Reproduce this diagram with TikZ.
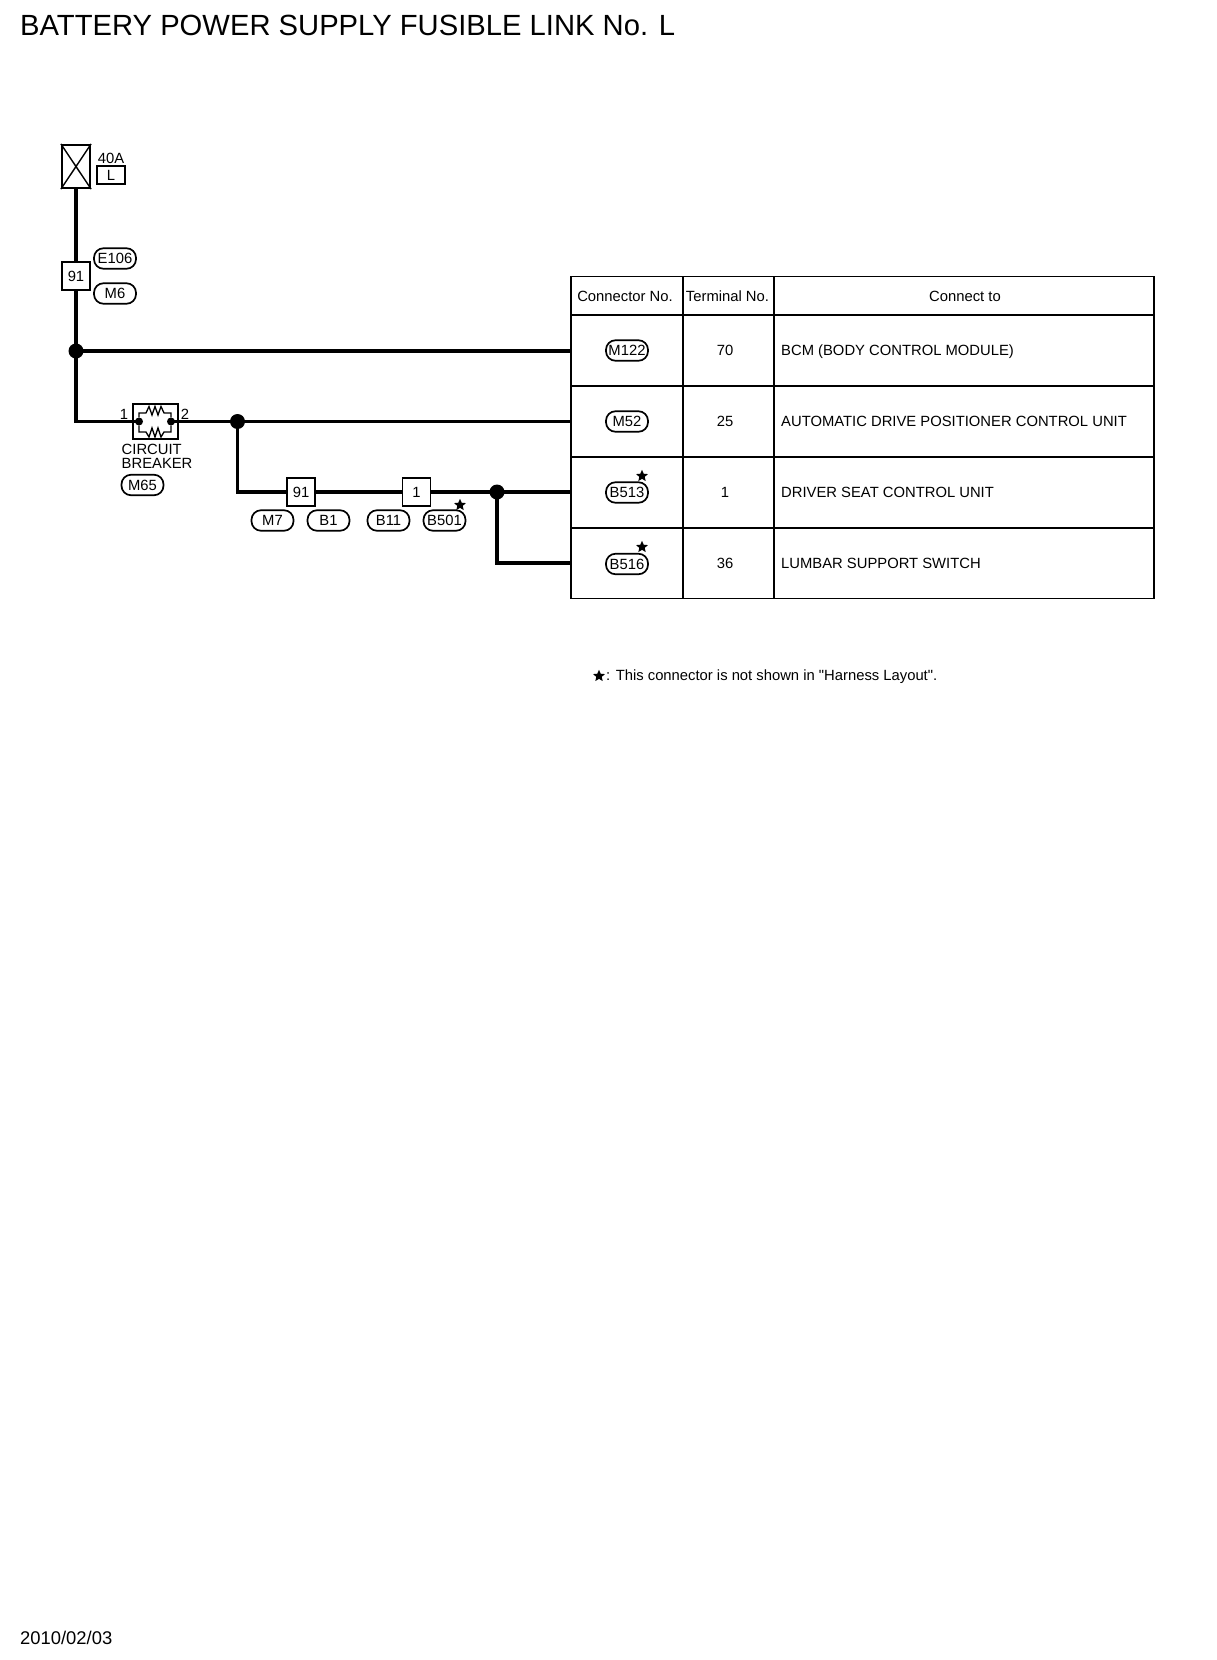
\documentclass[tikz,border=0pt]{standalone}
\usepackage{fontspec}
\setmainfont{Liberation Sans}
\newfontfamily\plainfont{Liberation Sans}
\usetikzlibrary{shapes.geometric,calc}
\newcommand{\fs}[1]{\fontsize{#1}{#1}\selectfont}
\tikzset{
  wire/.style={line width=3.6pt,line join=miter},
  thin line/.style={line width=1.4pt},
  termbox/.style={draw,line width=1.6pt,fill=white,minimum width=28pt,minimum height=28pt,inner sep=0pt,font=\fs{14.8}},
  pill/.style={draw,line width=1.7pt,rounded corners=9.5pt,minimum width=42pt,minimum height=20.5pt,inner sep=0pt,font=\fs{14.8}},
  junction/.style={circle,fill=black,minimum size=15pt,inner sep=0pt},
  smalldot/.style={circle,fill=black,minimum size=8pt,inner sep=0pt},
  starmark/.style={star,star points=5,star point ratio=2.2,fill=black,minimum size=12.5pt,inner sep=0pt},
  lbl/.style={inner sep=0pt,font=\fs{14.8}},
  cell/.style={draw,line width=1.9pt,inner sep=0pt,font=\fs{14.8}},
}
\begin{document}
\begin{tikzpicture}[x=1pt,y=-1pt]
\useasboundingbox (0,0) rectangle (1216,1660);
% title and date
\node[lbl,anchor=base west,font=\fs{29.2}] (title) at (20,35.5) {BATTERY POWER SUPPLY FUSIBLE LINK No. L};
\node[lbl,anchor=base west,font=\fs{18.4}] (date) at (20,1644.5) {2010/02/03};
% fusible link
\node[draw,line width=2.2pt,minimum width=28pt,minimum height=43pt,inner sep=0pt] (fuse) at (76,166.5) {};
\draw[thin line] (fuse.north west) -- (fuse.south east) (fuse.north east) -- (fuse.south west);
\node[lbl] (amp) at (111,158) {40A};
\node[draw,line width=1.6pt,minimum width=28pt,minimum height=18pt,inner sep=0pt,font=\fs{14.8}] (lbox) at (111,175) {L};
% first connector
\node[termbox] (c91a) at (76,276) {91};
\node[pill] (e106) at (115,258.5) {E106};
\node[pill] (m6) at (115,293.5) {M6};
% junctions
\node[junction] (j1) at (76,351) {};
\node[junction] (j2) at (237.5,421.5) {};
\node[junction] (j3) at (497,492) {};
% circuit breaker
\node[draw,line width=1.6pt,minimum width=45pt,minimum height=35pt,inner sep=0pt] (cb) at (155.5,421.5) {};
\node[smalldot] (t1) at (139,421.5) {};
\node[smalldot] (t2) at (171,421.5) {};
\draw[line width=1.3pt] (t1) -- (139,413) -- (146,413) -- (149,406.5) -- (152,415) -- (155,406.5) -- (158,415) -- (161,406.5) -- (164,413) -- (171,413) -- (t2);
\draw[line width=1.3pt] (t1) -- (139,432) -- (146,432) -- (149,437) -- (152,428) -- (155,437) -- (158,428) -- (161,437) -- (164,432) -- (171,432) -- (t2);
\node[lbl] (n1) at (124,414) {1};
\node[lbl] (n2) at (185,414) {2};
\node[lbl,anchor=base west] (cbt1) at (121.5,454.5) {CIRCUIT};
\node[lbl,anchor=base west] (cbt2) at (121.5,468.5) {BREAKER};
\node[pill] (m65) at (142.5,485) {M65};
% lower connectors
\node[termbox] (c91b) at (301,492) {91};
\node[termbox] (c1) at (416.5,492) {1};
\node[pill] (m7) at (272.5,520.5) {M7};
\node[pill] (b1) at (328.5,520.5) {B1};
\node[pill] (b11) at (388.5,520.5) {B11};
\node[pill] (b501) at (444.5,520.5) {B501};
\node[starmark] (s0) at (460,505) {};
% table
\node[cell,minimum width=112pt,minimum height=39pt] (h1) at (627,296) {};
\node[cell,minimum width=91pt,minimum height=39pt] (h2) at (728.5,296) {};
\node[cell,minimum width=380pt,minimum height=39pt] (h3) at (964,296) {};
\node[lbl] (h1t) at (625,296.5) {Connector No.};
\node[lbl] (h2t) at (727.5,296.5) {Terminal No.};
\node[lbl] (h3t) at (965,296.5) {Connect to};
\node[cell,minimum width=112pt,minimum height=71pt] (r1) at (627,350.5) {};
\node[cell,minimum width=112pt,minimum height=71pt] (r2) at (627,421.5) {};
\node[cell,minimum width=112pt,minimum height=71pt] (r3) at (627,492.5) {};
\node[cell,minimum width=112pt,minimum height=71pt] (r4) at (627,563) {};
\node[cell,minimum width=91pt,minimum height=71pt] (t1c) at (728.5,350.5) {};
\node[cell,minimum width=91pt,minimum height=71pt] (t2c) at (728.5,421.5) {};
\node[cell,minimum width=91pt,minimum height=71pt] (t3c) at (728.5,492.5) {};
\node[cell,minimum width=91pt,minimum height=71pt] (t4c) at (728.5,563) {};
\node[cell,minimum width=380pt,minimum height=71pt] (d1c) at (964,350.5) {};
\node[cell,minimum width=380pt,minimum height=71pt] (d2c) at (964,421.5) {};
\node[cell,minimum width=380pt,minimum height=71pt] (d3c) at (964,492.5) {};
\node[cell,minimum width=380pt,minimum height=71pt] (d4c) at (964,563) {};
\node[pill] (m122) at (627,350.5) {M122};
\node[pill] (m52) at (627,421.5) {M52};
\node[pill] (b513) at (627,492.5) {B513};
\node[pill] (b516) at (627,564) {B516};
\node[starmark] (s1) at (642,476) {};
\node[starmark] (s2) at (642,547) {};
\node[lbl] (v1) at (725,350.5) {70};
\node[lbl] (v2) at (725,421) {25};
\node[lbl] (v3) at (725,492) {1};
\node[lbl] (v4) at (725,563) {36};
\node[lbl,anchor=base west] (d1) at (781,355.5) {BCM (BODY CONTROL MODULE)};
\node[lbl,anchor=base west] (d2) at (781,426.5) {AUTOMATIC DRIVE POSITIONER CONTROL UNIT};
\node[lbl,anchor=base west] (d3) at (781,497.5) {DRIVER SEAT CONTROL UNIT};
\node[lbl,anchor=base west] (d4) at (781,568.5) {LUMBAR SUPPORT SWITCH};
% footnote
\node[starmark] (s3) at (599,676) {};
\node[lbl,anchor=base west] (note) at (606,680.5) {\plainfont : This connector is not shown in "Harness Layout".};
% wires
\draw[wire] (fuse.south) -- (c91a.north);
\draw[wire] (c91a.south) -- (j1.center);
\draw[wire] (j1.center) -- (j1 -| r1.west);
\draw[wire] (j1.center) |- (t1.center);
\draw[wire] (t2.center) -- (j2.center);
\draw[wire] (j2.center) -- (j2 -| r2.west);
\draw[wire] (j2.center) |- (c91b.west);
\draw[wire] (c91b.east) -- (c1.west);
\draw[wire] (c1.east) -- (j3.center);
\draw[wire] (j3.center) -- (j3 -| r3.west);
\draw[wire] (j3.center) |- (j3 |- r4.west) -- (r4.west);
\end{tikzpicture}
\end{document}
